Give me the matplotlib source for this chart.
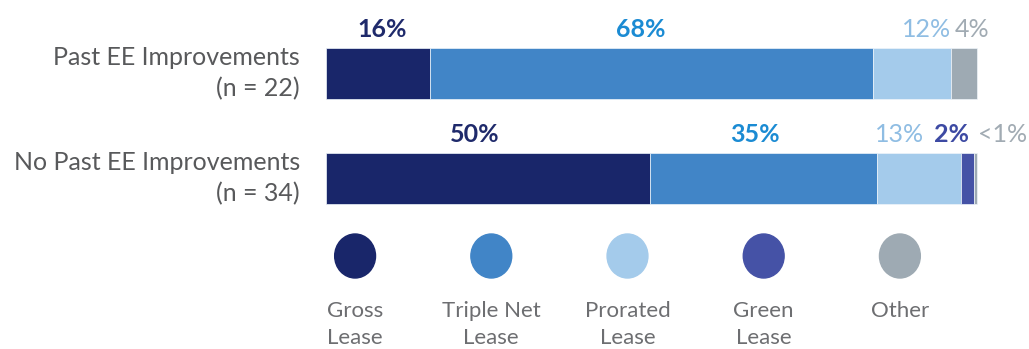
import numpy as np
import matplotlib.pyplot as plt
from matplotlib.patches import Ellipse

plt.rcParams['font.family'] = ['Lato', 'DejaVu Sans']

# survey groups and lease type shares (%)
groups = ['Past EE Improvements\n(n = 22)', 'No Past EE Improvements\n(n = 34)']
lease_types = ['Gross\nLease', 'Triple Net\nLease', 'Prorated\nLease', 'Green\nLease', 'Other']
shares = [
    [16, 68, 12, 0, 4],
    [50, 35, 13, 2, 0.5],
]
share_labels = [
    ['16%', '68%', '12%', None, '4%'],
    ['50%', '35%', '13%', '2%', '<1%'],
]

bar_colors = ['#19266a', '#4185c7', '#a4cbeb', '#4552a6', '#9eaab3']
text_colors = ['#1f2a6b', '#1b8bd3', '#8fbde3', '#3d4aa3', '#a1abb3']
text_weights = [['bold', 'bold', 'normal', None, 'normal'],
                ['bold', 'bold', 'normal', 'bold', 'normal']]
# horizontal nudges (in %) so neighbouring labels do not collide
label_nudge = [[0.6, -1.6, 2.3, 0, 1.2],
               [-2.1, -1.3, -3.0, -2.4, 4.2]]

W, H = 1029, 349
fig = plt.figure(figsize=(W / 100, H / 100), dpi=100)

# bar axes: 0-100% spans x pixels 326..977
ax = fig.add_axes([326 / W, 1 - 232 / H, 651 / W, 232 / H])
ax.set_xlim(0, 100)
ax.set_ylim(1.5095, -0.7)
ax.axis('off')

bar_h = 0.486
ypos = np.arange(len(groups))
for i, row in enumerate(shares):
    # rounded shares can add up to a bit over 100, so scale each row to 100
    scaled = np.array(row, dtype=float) * 100 / sum(row)
    left = 0
    for j, val in enumerate(scaled):
        if val > 0:
            ax.barh(ypos[i], val, left=left, height=bar_h, color=bar_colors[j],
                    edgecolor='#eef4fa', linewidth=0.5, clip_on=False)
        lab = share_labels[i][j]
        if lab is not None:
            ax.annotate(lab, xy=(left + val / 2 + label_nudge[i][j], ypos[i] - bar_h / 2),
                        xytext=(0, 5), textcoords='offset points',
                        ha='center', va='bottom', fontsize=18,
                        color=text_colors[j], fontweight=text_weights[i][j],
                        annotation_clip=False)
        left += val
    ax.text(-0.04, ypos[i], groups[i], transform=ax.get_yaxis_transform(),
            ha='right', va='center', fontsize=18, color='#58595b',
            linespacing=1.4)

# legend row: circles with labels underneath
lax = fig.add_axes([287 / W, 0, 681 / W, 130 / H])
lax.set_xlim(-0.5, 4.5)
lax.set_ylim(130, 0)
lax.axis('off')
for k, name in enumerate(lease_types):
    lax.add_patch(Ellipse((k, 37), 0.3, 44, color=bar_colors[k]))
    lax.text(k, 82, name, ha='center', va='top', fontsize=16,
             color='#6d6e71', linespacing=1.42)

fig.savefig('out.png', dpi=100)
